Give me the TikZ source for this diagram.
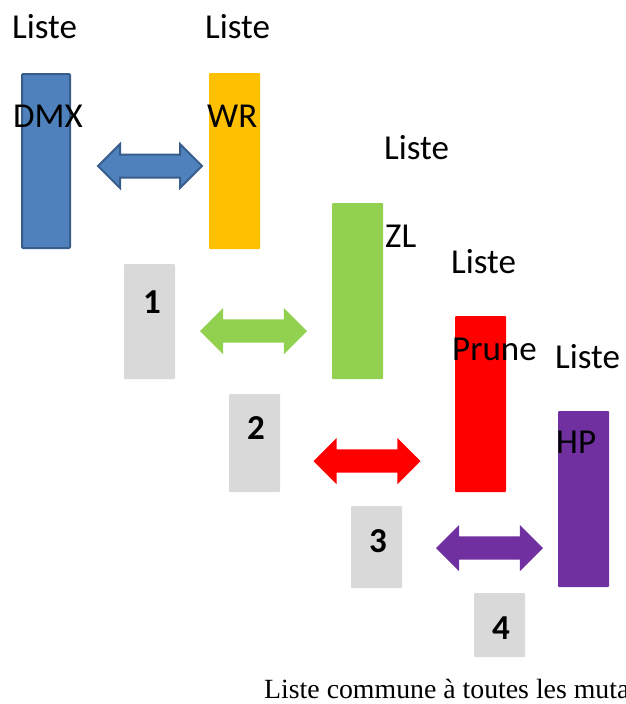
\documentclass[tikz,border=0pt]{standalone}
\usepackage{fontspec}
\setmainfont{Liberation Serif}
\newfontfamily\calib{Carlito}
\usetikzlibrary{shapes.arrows, positioning}

\definecolor{dmxblue}{HTML}{4F81BD}
\definecolor{dmxedge}{HTML}{385D8A}
\definecolor{wryellow}{HTML}{FFC000}
\definecolor{zlgreen}{HTML}{92D050}
\definecolor{prunered}{HTML}{FF0000}
\definecolor{hppurple}{HTML}{7030A0}
\definecolor{boxgray}{HTML}{D9D9D9}

\tikzset{
  bar/.style={rectangle, inner sep=0pt, outer sep=0pt, minimum width=51pt,
              minimum height=176pt, anchor=north west, rounded corners=1pt},
  numbox/.style={rectangle, fill=boxgray, inner sep=0pt, outer sep=0pt,
                 minimum width=51pt, anchor=north west, rounded corners=1pt},
  tag/.style={font=\calib\fontsize{35}{40}\selectfont, inner sep=0pt, anchor=base west},
  num/.style={font=\calib\bfseries\fontsize{35}{40}\selectfont, inner sep=0pt, anchor=base},
  swap/.style={double arrow, double arrow head extend=11.5pt, inner xsep=0pt,
               inner ysep=11.5pt, minimum height=107pt, outer sep=0pt}
}

\begin{document}
\begin{tikzpicture}[x=1pt, y=-1pt]
    \clip (0,0) rectangle (626,704);

    % listes
    \node[bar, fill=dmxblue, draw=dmxedge, line width=2pt, minimum width=48pt,
          minimum height=174pt] (dmx) at (22,74) {};
    \node[bar, fill=wryellow] (wr) at (209,73) {};
    \node[bar, fill=zlgreen] (zl) at (332,203) {};
    \node[bar, fill=prunered] (prune) at (455,316) {};
    \node[bar, fill=hppurple] (hp) at (558,411) {};

    % cases numerotees
    \node[numbox, minimum height=115pt] (box1) at (124,264) {};
    \node[numbox, minimum height=98pt] (box2) at (229,394) {};
    \node[numbox, minimum height=82pt] (box3) at (351,506) {};
    \node[numbox, minimum height=64pt] (box4) at (474,593) {};
    \node[num] (num1) at (152,313) {1};
    \node[num] (num2) at (256,439) {2};
    \node[num] (num3) at (378,552) {3};
    \node[num] (num4) at (501,639) {4};

    % fleches
    \node[swap, fill=dmxblue, draw=dmxedge, line width=2pt, minimum height=104pt,
          double arrow head extend=10.5pt, inner ysep=10.5pt] (sw1) at (150,166) {};
    \node[swap, fill=zlgreen] (sw2) at (253.5,331) {};
    \node[swap, fill=prunered] (sw3) at (367,461) {};
    \node[swap, fill=hppurple] (sw4) at (489.5,548) {};

    % textes
    \node[tag] (l1) at (12,38) {Liste};
    \node[tag] (l2) at (205,38) {Liste};
    \node[tag] (l3) at (384,159) {Liste};
    \node[tag] (l4) at (451,273) {Liste};
    \node[tag] (l5) at (555,368) {Liste};
    \node[tag] (tdmx) at (13,127) {DMX};
    \node[tag] (twr) at (207,127) {WR};
    \node[tag] (tzl) at (385,247) {ZL};
    \node[tag] (tprune) at (452,360) {Prune};
    \node[tag] (thp) at (556,453) {HP};

    \node[font=\fontsize{27.8}{30}\selectfont, inner sep=0pt, anchor=base west]
        (caption) at (264,698) {Liste commune à toutes les mutations};
\end{tikzpicture}
\end{document}
